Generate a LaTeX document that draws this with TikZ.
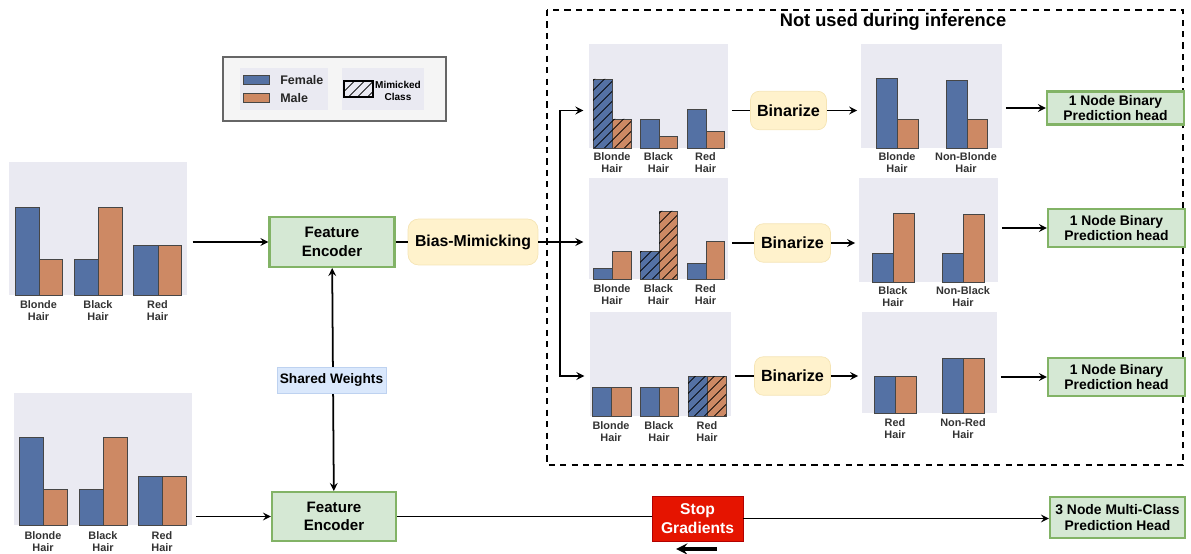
\documentclass[tikz,border=0pt]{standalone}
\usepackage{fontspec}
\setmainfont{Liberation Sans}
\usetikzlibrary{positioning, patterns.meta, arrows}

\definecolor{chartbg}{RGB}{234,234,242}
\definecolor{femblue}{RGB}{84,113,164}
\definecolor{malorange}{RGB}{205,137,100}
\definecolor{barline}{RGB}{70,70,70}
\definecolor{encfill}{RGB}{213,232,212}
\definecolor{encline}{RGB}{130,179,102}
\definecolor{bmfill}{RGB}{255,242,204}
\definecolor{bmline}{RGB}{245,228,180}
\definecolor{sgfill}{RGB}{229,20,0}
\definecolor{sgline}{RGB}{178,0,0}
\definecolor{swfill}{RGB}{218,232,252}
\definecolor{swline}{RGB}{190,210,240}

% bars of one chart: baseline, list of left/middle/right/female top/male top
\newcommand{\genderbars}[2]{%
  \foreach \l/\m/\r/\f/\g in {#2} {
    \draw[fem] (\l,#1) rectangle (\m,\f);
    \draw[mal] (\m,#1) rectangle (\r,\g);
  }}

\begin{document}
\begin{tikzpicture}[x=0.02cm, y=-0.02cm]
  \tikzset{
    >=stealth, % arrow tips
    link/.style={line width=1pt}, % connectors
    chart/.style={fill=chartbg, inner sep=0pt}, % plot background
    fem/.style={fill=femblue, draw=barline, line width=0.5pt},
    mal/.style={fill=malorange, draw=barline, line width=0.5pt},
    hatch/.style={pattern={Lines[angle=45, distance=4pt, line width=0.5pt]}},
    hair/.style={font=\fontsize{6.2}{6.8}\selectfont\bfseries, text=black!80, align=center, inner sep=0pt},
    enc/.style={draw=encline, fill=encfill, line width=1.2pt, align=center, inner sep=0pt,
      font=\fontsize{8.6}{10.6}\selectfont\bfseries},
    head/.style={draw=encline, fill=encfill, line width=1.2pt, align=center, inner sep=0pt,
      minimum width=2.74cm, font=\fontsize{7.9}{9}\selectfont\bfseries},
    binar/.style={draw=bmline, fill=bmfill, rounded corners=5pt, inner sep=0pt,
      minimum width=1.52cm, minimum height=0.77cm, font=\fontsize{9.2}{11}\selectfont\bfseries},
    legtxt/.style={font=\fontsize{7.1}{8}\selectfont\bfseries, text=black!85, inner sep=0pt},
  }
  \useasboundingbox (0,0) rectangle (1191,554);

  % unused box
  \draw[dashed, dash pattern=on 3.5pt off 3pt, line width=1.2pt] (547,10) rectangle (1183,465);
  \node[font=\fontsize{10.4}{12}\selectfont\bfseries] (title) at (893,22) {Not used during inference};

  % legend
  \draw[draw=black!60, line width=1.6pt, fill=black!4] (223,57) rectangle (446,121);
  \fill[chartbg] (240,68) rectangle (328,110);
  \fill[chartbg] (342,68) rectangle (424,110);
  \node[fem, minimum width=0.52cm, minimum height=0.18cm, inner sep=0pt] (fsw) at (256,79.5) {};
  \node[mal, minimum width=0.52cm, minimum height=0.18cm, inner sep=0pt] (msw) at (256,97.5) {};
  \node[legtxt, anchor=west] (ftxt) at (280,80) {Female};
  \node[legtxt, anchor=west] (mtxt) at (280,98) {Male};
  \node[draw=black, line width=0.6pt, hatch, minimum width=0.58cm, minimum height=0.32cm, inner sep=0pt] (hsw) at (358.5,89) {};
  \node[font=\fontsize{5.7}{7}\selectfont\bfseries, align=center, inner sep=0pt] (ctxt) at (398,91) {Mimicked\\Class};

  % input charts
  \node[chart, minimum width=3.56cm, minimum height=2.66cm] (in1) at (98,228.5) {};
  \genderbars{295}{15/39/62/207/259, 74/98/122/259/207, 133/158/181/245/245}
  \node[hair] (in1a) at (38.5,311) {Blonde\\Hair};
  \node[hair] (in1b) at (98,311) {Black\\Hair};
  \node[hair] (in1c) at (157.5,311) {Red\\Hair};

  \node[chart, minimum width=3.56cm, minimum height=2.64cm] (in2) at (103,459) {};
  \genderbars{525}{19/43/67/437/489, 79/103/127/489/437, 138/162/186/476/476}
  \node[hair] (in2a) at (43,541.5) {Blonde\\Hair};
  \node[hair] (in2b) at (103,541.5) {Black\\Hair};
  \node[hair] (in2c) at (162,541.5) {Red\\Hair};

  % mimicked charts
  \node[chart, minimum width=2.78cm, minimum height=2.08cm] (c1) at (658.5,96) {};
  \genderbars{148}{593/612/631/79/119, 640/659/677/119/136, 687/706/724/109/131}
  \fill[hatch] (593,148) rectangle (612,79) (612,148) rectangle (631,119);
  \node[hair] (c1a) at (612,163) {Blonde\\Hair};
  \node[hair] (c1b) at (658.5,163) {Black\\Hair};
  \node[hair] (c1c) at (705.5,163) {Red\\Hair};

  \node[chart, minimum width=2.78cm, minimum height=2.02cm] (c2) at (658.5,228.5) {};
  \genderbars{279}{593/612/631/268/251, 640/659/677/251/211, 687/706/724/263/241}
  \fill[hatch] (640,279) rectangle (659,251) (659,279) rectangle (677,211);
  \node[hair] (c2a) at (612,294.5) {Blonde\\Hair};
  \node[hair] (c2b) at (658.5,294.5) {Black\\Hair};
  \node[hair] (c2c) at (705.5,294.5) {Red\\Hair};

  \node[chart, minimum width=2.82cm, minimum height=2.08cm] (c3) at (660.5,364) {};
  \genderbars{416}{592/611/631/387/387, 640/659/678/387/387, 688/707/726/376/376}
  \fill[hatch] (688,416) rectangle (707,376) (707,416) rectangle (726,376);
  \node[hair] (c3a) at (611,432) {Blonde\\Hair};
  \node[hair] (c3b) at (659,432) {Black\\Hair};
  \node[hair] (c3c) at (707,432) {Red\\Hair};

  % binarized charts
  \node[chart, minimum width=2.82cm, minimum height=2.08cm] (b1) at (931.5,96) {};
  \genderbars{148}{876/897/918/78/119, 946/967/987/80/119}
  \node[hair] (b1a) at (897,163) {Blonde\\Hair};
  \node[hair] (b1b) at (966,163) {Non-Blonde\\Hair};

  \node[chart, minimum width=2.78cm, minimum height=2.08cm] (b2) at (928.5,230) {};
  \genderbars{282}{872/893/914/253/213, 942/963/984/253/214}
  \node[hair] (b2a) at (893,296.5) {Black\\Hair};
  \node[hair] (b2b) at (963,296.5) {Non-Black\\Hair};

  \node[chart, minimum width=2.7cm, minimum height=2.02cm] (b3) at (929.5,362.5) {};
  \genderbars{413}{874/895/916/376/376, 942/963/984/358/358}
  \node[hair] (b3a) at (895,429) {Red\\Hair};
  \node[hair] (b3b) at (963,429) {Non-Red\\Hair};

  % boxes
  \node[enc, minimum width=2.5cm, minimum height=1.0cm] (fe1) at (332,242) {Feature\\Encoder};
  \node[enc, minimum width=2.48cm, minimum height=0.98cm] (fe2) at (334,516.5) {Feature\\Encoder};
  \node[draw=bmline, fill=bmfill, rounded corners=6pt, minimum width=2.6cm, minimum height=0.92cm,
    inner sep=0pt, font=\fontsize{9}{11}\selectfont\bfseries] (bm) at (473,242) {Bias-Mimicking};
  \node[binar] (bin1) at (788.5,110.5) {Binarize};
  \node[binar] (bin2) at (792.5,243) {Binarize};
  \node[binar] (bin3) at (792.5,376) {Binarize};
  \node[head, minimum height=0.66cm] (h1) at (1115.5,108) {1 Node Binary\\Prediction head};
  \node[head, minimum height=0.76cm] (h2) at (1116.5,228) {1 Node Binary\\Prediction head};
  \node[head, minimum height=0.76cm] (h3) at (1116.5,377) {1 Node Binary\\Prediction head};
  \node[head, minimum width=2.7cm, minimum height=0.82cm] (h4) at (1117.5,517.5) {3 Node Multi-Class\\Prediction Head};
  \node[draw=sgline, fill=sgfill, text=white, align=center, inner sep=0pt, minimum width=1.82cm,
    minimum height=0.9cm, font=\fontsize{8.9}{10.6}\selectfont\bfseries] (sg) at (697.5,518.5) {Stop\\Gradients};

  % connectors
  \coordinate (split) at (560,242);
  \draw[link, ->, shorten <=3pt] (in1.east |- fe1) -- (fe1);
  \draw[link, ->, shorten <=2pt] (in2.east |- fe2) -- (fe2);
  \draw[link] (fe1) -- (bm);
  \draw[link, ->, shorten >=3pt] (bm) -- (c2.west |- bm);
  \draw[link, ->, shorten >=3pt] (split) |- (c1.west |- bin1);
  \draw[link, ->, shorten >=3pt] (split) |- (c3.west |- bin3);
  \draw[link, shorten <=2pt] (c1.east |- bin1) -- (bin1);
  \draw[link, shorten <=2pt] (c2.east |- bin2) -- (bin2);
  \draw[link, shorten <=2pt] (c3.east |- bin3) -- (bin3);
  \draw[link, ->, shorten >=2pt] (bin1) -- (b1.west |- bin1);
  \draw[link, ->, shorten >=2pt] (bin2) -- (b2.west |- bin2);
  \draw[link, ->, shorten >=2pt] (bin3) -- (b3.west |- bin3);
  \draw[link, ->, shorten <=2pt] (b1.east |- h1) -- (h1);
  \draw[link, ->, shorten <=2pt] (b2.east |- h2) -- (h2);
  \draw[link, ->, shorten <=2pt] (b3.east |- h3) -- (h3);
  \draw[link] (fe2) -- (sg.west |- fe2);
  \draw[link, ->] (sg) -- (h4.west |- sg);
  \draw[link, <->] (fe1) -- (fe2);
  \node[draw=swline, fill=swfill, inner sep=0pt, minimum width=2.18cm, minimum height=0.52cm,
    font=\fontsize{7.8}{9}\selectfont\bfseries] (sw) at (331.5,380) {Shared Weights};

  % gradient direction
  \coordinate (ga) at (717,549);
  \coordinate (gb) at (676,549);
  \draw[line width=1.8pt, ->] (ga) -- (gb);
\end{tikzpicture}
\end{document}
